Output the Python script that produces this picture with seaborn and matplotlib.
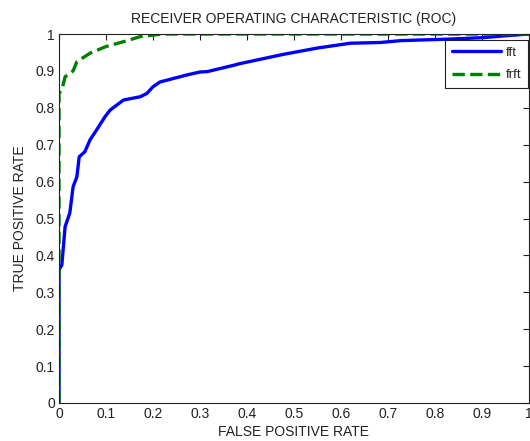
import numpy as np
import pandas as pd
import matplotlib
matplotlib.use("Agg")
import matplotlib.pyplot as plt
import seaborn as sns

# ROC curve points
fpr_fft = [0, 0, 0.006, 0.013, 0.023, 0.03, 0.038, 0.043, 0.055, 0.066, 0.08, 0.098,
           0.109, 0.137, 0.173, 0.187, 0.2, 0.215, 0.23, 0.272, 0.30, 0.315, 0.371,
           0.386, 0.478, 0.55, 0.62, 0.684, 0.727, 0.80, 0.827, 0.90, 0.968, 1.0]
tpr_fft = [0, 0.36, 0.374, 0.478, 0.515, 0.586, 0.613, 0.667, 0.681, 0.713, 0.74, 0.776,
           0.794, 0.821, 0.83, 0.839, 0.857, 0.87, 0.875, 0.889, 0.897, 0.898, 0.915,
           0.92, 0.945, 0.962, 0.975, 0.977, 0.982, 0.985, 0.986, 0.99, 0.997, 1.0]

fpr_frft = [0, 0, 0.006, 0.013, 0.03, 0.038, 0.066, 0.1, 0.137, 0.173, 0.2, 0.22, 1.0]
tpr_frft = [0, 0.84, 0.848, 0.884, 0.90, 0.925, 0.948, 0.966, 0.979, 0.993, 0.997, 1.0, 1.0]

ticks = np.round(np.arange(0, 1.01, 0.1), 1)
tick_labels = ["0", "0.1", "0.2", "0.3", "0.4", "0.5", "0.6", "0.7", "0.8", "0.9", "1"]

sns.set_style("white")
plt.rcParams['font.family'] = ['Liberation Sans', 'DejaVu Sans']

fig = plt.figure(figsize=(5.3, 4.41), dpi=100)
ax = fig.add_axes([59 / 530, 38 / 441, 470 / 530, 369 / 441])

df_fft = pd.DataFrame({"fpr": fpr_fft, "tpr": tpr_fft})
df_frft = pd.DataFrame({"fpr": fpr_frft, "tpr": tpr_frft})

sns.lineplot(data=df_fft, x="fpr", y="tpr", sort=False, estimator=None,
             color="#0000ff", linewidth=2.4, label="fft", ax=ax)
sns.lineplot(data=df_frft, x="fpr", y="tpr", sort=False, estimator=None,
             color="#008000", linewidth=2.4, linestyle="--", dashes=(3, 1.6),
             label="frft", ax=ax)

ax.set_xlim(0, 1)
ax.set_ylim(0, 1)
ax.set_xticks(ticks)
ax.set_xticklabels(tick_labels)
ax.set_yticks(ticks)
ax.set_yticklabels(tick_labels)
ax.tick_params(direction="in", length=4, width=0.8, top=True, right=True,
               labelsize=10, colors="#222222", pad=3)
for s in ax.spines.values():
    s.set_color("#222222")
    s.set_linewidth(0.8)

ax.set_xlabel("FALSE POSITIVE RATE", fontsize=10, color="#222222", labelpad=3)
ax.set_ylabel("TRUE POSITIVE RATE", fontsize=10, color="#222222", labelpad=6)
ax.set_title("RECEIVER OPERATING CHARACTERISTIC (ROC)", fontsize=10,
             color="#222222", pad=8)

leg = ax.legend(loc="upper right", bbox_to_anchor=(0.998, 0.983), fontsize=9.5,
                fancybox=False, framealpha=1, edgecolor="#222222",
                handlelength=3.7, borderpad=0.5, labelspacing=0.75,
                handletextpad=0.4, borderaxespad=0)
leg.get_frame().set_linewidth(0.8)

fig.savefig("out.png", dpi=100)
